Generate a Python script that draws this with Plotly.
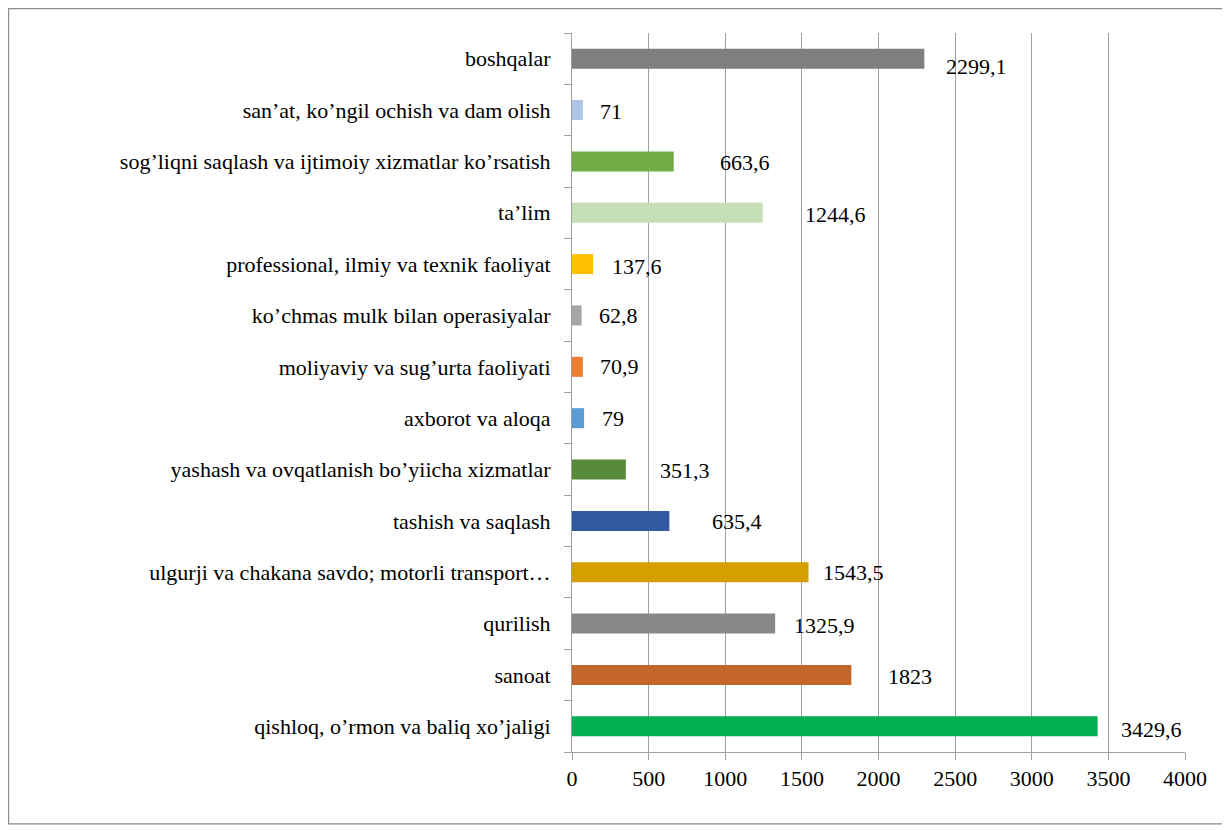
import plotly.graph_objects as go

categories = [
    "qishloq, o’rmon va baliq xo’jaligi",
    "sanoat",
    "qurilish",
    "ulgurji va chakana savdo; motorli transport…",
    "tashish va saqlash",
    "yashash va ovqatlanish bo’yiicha xizmatlar",
    "axborot va aloqa",
    "moliyaviy va sug’urta faoliyati",
    "ko’chmas mulk bilan operasiyalar",
    "professional, ilmiy va texnik faoliyat",
    "ta’lim",
    "sog’liqni saqlash va ijtimoiy xizmatlar ko’rsatish",
    "san’at, ko’ngil ochish va dam olish",
    "boshqalar",
]
values = [3429.6, 1823, 1325.9, 1543.5, 635.4, 351.3, 79, 70.9, 62.8, 137.6, 1244.6, 663.6, 71, 2299.1]
value_labels = ["3429,6", "1823", "1325,9", "1543,5", "635,4", "351,3", "79", "70,9", "62,8", "137,6", "1244,6", "663,6", "71", "2299,1"]
x_ticks = [0, 500, 1000, 1500, 2000, 2500, 3000, 3500, 4000]

colors = ["#00b050", "#c4652b", "#878787", "#d4a000", "#335aa0", "#578a3a", "#5b9bd5",
          "#ed7d31", "#a5a5a5", "#ffc000", "#c5e0b4", "#70ad47", "#adc6e8", "#7f7f7f"]
label_dx = [21, 35, 17, 12, 41, 32, 16, 15, 15, 17, 40, 44, 15, 20]
label_dy = [-3, -2, -2, 0, -1, -1, 0, 0, 0, -2, -2, -1, -1, -8]

FONT = "'Times New Roman', 'Liberation Serif', 'DejaVu Serif', serif"

fig = go.Figure(go.Bar(
    x=values, y=categories, orientation="h",
    marker=dict(color=colors, line=dict(width=0)),
    hoverinfo="skip",
))

for c, v, t, dx, dy in zip(categories, values, value_labels, label_dx, label_dy):
    fig.add_annotation(x=v, y=c, text=t, showarrow=False, xanchor="left",
                       xshift=dx, yshift=dy, font=dict(family=FONT, size=22, color="#000"))

fig.add_shape(type="rect", xref="paper", yref="paper",
              x0=-0.9192, x1=1.0669, y0=-0.1001, y1=1.0341,
              line=dict(color="#8c8c8c", width=1.3), layer="below")

fig.update_layout(
    width=1230, height=830,
    margin=dict(l=564, r=53, t=25, b=86),
    paper_bgcolor="white", plot_bgcolor="white",
    bargap=0.61, showlegend=False,
    font=dict(family=FONT, size=22, color="#000"),
    xaxis=dict(range=[0, 4000], tickvals=x_ticks, ticktext=[str(t) for t in x_ticks],
               showgrid=True, gridcolor="#a0a0a0", gridwidth=1,
               showline=True, linecolor="#a0a0a0", linewidth=1,
               ticks="outside", ticklen=7, tickcolor="#a0a0a0",
               zeroline=False, tickfont=dict(family=FONT, size=22)),
    yaxis=dict(type="category", tickson="boundaries", ticks="outside", ticklen=7,
               tickcolor="#a0a0a0", showline=True, linecolor="#a0a0a0", linewidth=1,
               showgrid=False, ticklabelstandoff=16, tickfont=dict(family=FONT, size=22)),
)

fig.write_html("out.html")
